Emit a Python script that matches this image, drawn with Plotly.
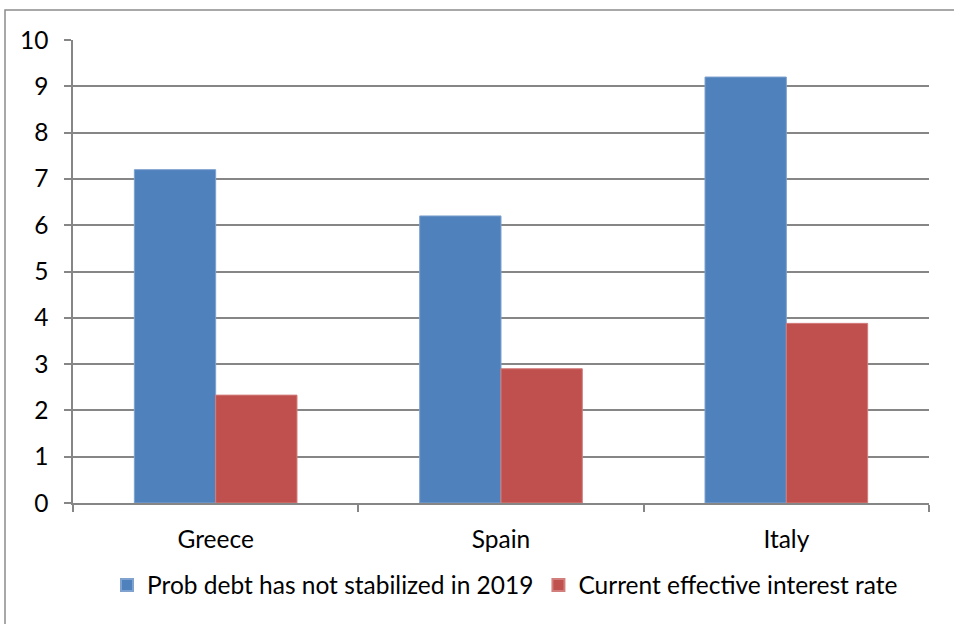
import plotly.graph_objects as go

categories = ["Greece", "Spain", "Italy"]
prob_debt = [7.2, 6.2, 9.2]
interest_rate = [2.33, 2.9, 3.88]
series_names = ["Prob debt has not stabilized in 2019", "Current effective interest rate"]
y_ticks = [0, 1, 2, 3, 4, 5, 6, 7, 8, 9, 10]

FONT = "Lato"
FS = 24.5
W, H = 954, 624
L, R, T, B = 73, 25, 40, 121
pw, ph = W - L - R, H - T - B

fig = go.Figure()
fig.add_trace(go.Bar(x=categories, y=prob_debt, name=series_names[0],
                     marker=dict(color="#4F81BD", line=dict(color="#7FA2CF", width=1))))
fig.add_trace(go.Bar(x=categories, y=interest_rate, name=series_names[1],
                     marker=dict(color="#C0504D", line=dict(color="#D27E7C", width=1))))

def px(x):
    return (x - L) / pw

def py(y):
    return (H - B - y) / ph

fig.update_layout(
    width=W, height=H,
    margin=dict(l=L, r=R, t=T, b=B, pad=0),
    paper_bgcolor="white", plot_bgcolor="white",
    barmode="group", bargap=0.43, bargroupgap=0,
    font=dict(family=FONT, size=FS, color="black"),
    showlegend=True,
    legend=dict(orientation="h", x=px(505), xanchor="center", y=py(585), yanchor="middle",
                font=dict(family=FONT, size=FS, color="black"),
                itemsizing="constant", traceorder="normal", itemwidth=30,
                bgcolor="rgba(0,0,0,0)"),
    xaxis=dict(type="category", tickson="boundaries", ticks="outside", ticklen=7,
               tickcolor="#868686", tickwidth=1.5, showline=True, linecolor="#868686",
               linewidth=1.5, showgrid=False, zeroline=False, ticklabelstandoff=14,
               tickfont=dict(family=FONT, size=FS, color="black")),
    yaxis=dict(range=[0, 10], tickvals=y_ticks, ticks="outside", ticklen=7,
               tickcolor="#868686", tickwidth=1.5, showline=True, linecolor="#868686",
               linewidth=1.5, showgrid=True, gridcolor="#868686", gridwidth=1.5,
               zeroline=False, ticklabelstandoff=11,
               tickfont=dict(family=FONT, size=FS, color="black")),
    shapes=[dict(type="rect", xref="paper", yref="paper",
                 x0=px(5), x1=px(W + 10), y0=py(10), y1=py(H + 10),
                 line=dict(color="#8c8c8c", width=1.5), fillcolor="rgba(0,0,0,0)",
                 layer="below")],
)

fig.write_html("out.html")
